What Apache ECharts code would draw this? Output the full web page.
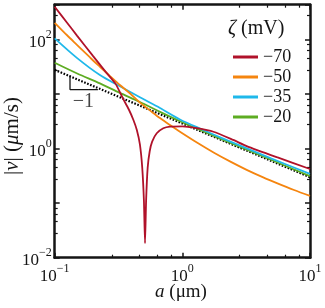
<!DOCTYPE html>
<html>
<head>
<meta charset="utf-8">
<script src="https://cdn.jsdelivr.net/npm/echarts@6/dist/echarts.min.js"></script>
<style>
html,body{margin:0;padding:0;background:#fff;}
#chart{width:325px;height:308px;}
</style>
</head>
<body>
<div id="chart"></div>
<script>
// values, a in um, |v| in um/s
var redA = [0.1,0.125,0.15,0.2,0.25,0.3,0.344,0.38,0.413,0.44,0.465,0.485,0.5,0.51,0.52,0.535,0.555,0.58,0.63,0.709,0.8,1.0,1.3,1.75,2.5,3.19,5.5,10];
var redV = [404,205,118,50,26,15.5,8.2,5.3,3.4,2.2,1.2,0.45,0.11,0.0184,0.11,0.45,0.9,1.35,1.92,2.37,2.55,2.58,2.38,2.05,1.45,1.12,0.7,0.425];
var orangeA = [0.1,0.125,0.15,0.19,0.226,0.27,0.324,0.39,0.465,0.56,0.668,0.8,0.958,1.3,1.77,2.4,3.19,4.3,5.5,7.5,10];
var orangeV = [205,121,80,46.8,32,21.8,14.8,10.3,7.0,5.0,3.65,2.72,2.05,1.30,0.845,0.573,0.41,0.298,0.234,0.175,0.136];
var cyanA = [0.1,0.15,0.226,0.324,0.465,0.668,0.958,1.4,2,5,10];
var cyanV = [106,46,22.5,14.0,8.8,5.6,3.45,2.3,1.6,0.66,0.345];
var greenA = [0.1,0.15,0.226,0.324,0.465,0.668,0.958,2,5,10];
var greenV = [37.8,24,15.8,10.6,7.2,4.75,3.2,1.52,0.62,0.315];
var blackA = [0.1,1,10];
var blackV = [28,2.9,0.3];
// slope triangle and its label
var triA = [0.1318,0.1318,0.218];
var triV = [22,12.2,12.2];
var slopeLabelPos = [0.168,7.35];

var names = ['\u221270','\u221250','\u221235','\u221220'];
var colors = ['#b0122a','#f5850f','#1fb8ea','#5dac22'];

var xLabels = [0.1,1,10];
var yLabels = [0.01,1,100];
var xMin = 0.1, xMax = 10, yMin = 0.01, yMax = 440;

function pairs(a, v){
	var d = [];
	for(var i = 0; i < a.length; i++) d.push([a[i], v[i]]);
	return d;
}

var FONT = "'Liberation Serif','DejaVu Serif',serif";
var INK = '#151515';

function powLabel(val){
	var e = Math.round(Math.log10(val));
	return '{b|10}{s|' + String(e).replace('-', '\u2212') + '}';
}
var powRich = {
	b:{fontSize:17, fontFamily:FONT, color:INK, lineHeight:22, verticalAlign:'bottom'},
	s:{fontSize:12, fontFamily:FONT, color:INK, lineHeight:12, verticalAlign:'top'}
};

// frame axis: thick line, inside ticks, log minor ticks
function frameAxis(pos, min, max, labels, margin){
	return {
		type:'log', position:pos, min:min, max:max,
		axisLine:{show:true, onZero:false, lineStyle:{color:INK, width:2.5}},
		axisTick:{show:true, inside:true, length:5, lineStyle:{color:INK, width:1.5}},
		minorTick:{show:true, length:3, lineStyle:{color:INK, width:1.2}},
		axisLabel:{show:!!labels, customValues:labels || [], margin:margin, formatter:powLabel, rich:powRich},
		splitLine:{show:false}, minorSplitLine:{show:false}
	};
}

var series = [
	{name:'ref', type:'line', data:pairs(blackA, blackV), symbol:'none', silent:true, z:2,
	 lineStyle:{color:'#000', width:2.2, type:[1.6,1.6]}}
];
var curveA = [redA, orangeA, cyanA, greenA];
var curveV = [redV, orangeV, cyanV, greenV];
for(var i = 3; i >= 0; i--){
	series.push({
		name:names[i], type:'line', data:pairs(curveA[i], curveV[i]), symbol:'none',
		smooth: i === 0 ? 0.2 : 0.3, z:3 + (3 - i),
		lineStyle:{color:colors[i], width:1.8}, itemStyle:{color:colors[i]}
	});
}
series.push({name:'tri', type:'line', data:pairs(triA, triV), symbol:'none', silent:true,
	lineStyle:{color:INK, width:1.3}});
series.push({name:'slope', type:'scatter', data:[slopeLabelPos], symbolSize:0, silent:true,
	label:{show:true, position:[0,0], align:'center', verticalAlign:'middle', formatter:'\u22121',
		fontSize:20, fontFamily:FONT, color:INK}});

var option = {
	animation:false,
	backgroundColor:'#fff',
	grid:{left:54.7, right:15, top:4.7, bottom:50.3},
	xAxis:[frameAxis('bottom', xMin, xMax, xLabels, 5), frameAxis('top', xMin, xMax, null, 5)],
	yAxis:[frameAxis('left', yMin, yMax, yLabels, 3), frameAxis('right', yMin, yMax, null, 3)],
	legend:{
		data:names, orient:'vertical', left:233, top:48, icon:'rect', padding:0,
		itemWidth:25, itemHeight:3, itemGap:2, itemStyle:{borderWidth:0},
		textStyle:{fontSize:18, fontFamily:FONT, color:INK, lineHeight:16}
	},
	graphic:[
		{type:'text', left:228, top:19, style:{
			text:'{i|\u03b6} (mV)', font:'20px ' + FONT, fill:INK,
			rich:{i:{fontStyle:'italic', fontSize:20, fontFamily:FONT}}}},
		{type:'text', x:181, y:292, style:{
			text:'{i|a} (\u03bcm)', font:'19px ' + FONT, fill:INK, align:'center', verticalAlign:'middle',
			rich:{i:{fontStyle:'italic', fontSize:19, fontFamily:FONT}}}},
		{type:'text', x:12, y:136, rotation:Math.PI/2, style:{
			text:'|{i|v}| ({i|\u03bc}m/s)', font:'21px ' + FONT, fill:INK, align:'center', verticalAlign:'middle',
			rich:{i:{fontStyle:'italic', fontSize:21, fontFamily:FONT}}}}
	],
	series:series
};

var myChart = echarts.init(document.getElementById('chart'));
myChart.setOption(option);
</script>
</body>
</html>
